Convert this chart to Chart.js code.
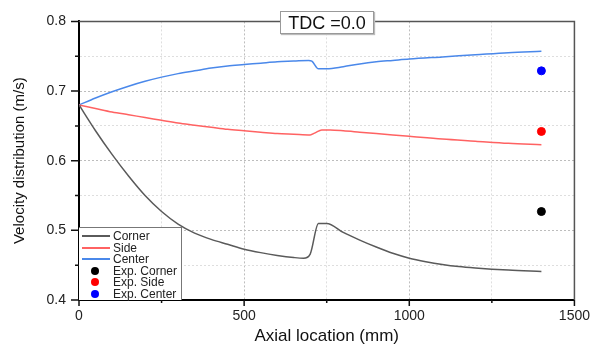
<!DOCTYPE html>
<html>
<head>
<meta charset="utf-8">
<script src="https://cdn.jsdelivr.net/npm/chart.js@4.4.1/dist/chart.umd.min.js"></script>
<style>
    body { margin: 0; background: #fff; font-family: "Liberation Sans", Arial, sans-serif; }
    #wrap { position: relative; width: 598px; height: 349px; }
    #tdc {
        position: absolute; left: 280px; top: 11px; width: 92px; height: 21px;
        border: 1px solid #999; background: #fff; box-shadow: 1px 1px 1px #bbb;
        font-size: 18px; line-height: 22px; text-align: center; color: #111;
    }
    #legend {
        position: absolute; left: 79px; top: 227px; width: 102px; height: 72px;
        border: 1px solid #777; border-left: none; border-bottom: none; background: #fff;
        font-size: 12px; color: #222;
    }
    .row { position: absolute; left: 0; height: 12px; line-height: 12px; }
    .swatch { position: absolute; left: 3px; top: 5px; width: 28px; height: 2px; }
    .dot { position: absolute; left: 12px; top: 2px; width: 8px; height: 8px; border-radius: 50%; }
    .lbl { position: absolute; left: 34px; top: 0; white-space: nowrap; }
</style>
</head>
<body>
<div id="wrap">
    <canvas id="chart" width="598" height="349"></canvas>
    <div id="tdc">TDC =0.0</div>
    <div id="legend"></div>
</div>
<script>
// axial positions (mm) for the simulated curves
const cornerX = [0, 50, 100, 150, 200, 250, 300, 350, 400, 450, 500, 550, 600, 650, 680, 700, 725, 750, 800, 850, 900, 950, 1000, 1050, 1100, 1150, 1200, 1300, 1400];
const cornerY = [0.680, 0.643, 0.609, 0.578, 0.550, 0.527, 0.509, 0.496, 0.487, 0.480, 0.473, 0.468, 0.464, 0.461, 0.460, 0.466, 0.510, 0.510, 0.497, 0.486, 0.476, 0.467, 0.460, 0.455, 0.451, 0.448, 0.446, 0.443, 0.441];

const sideX = [0, 50, 100, 150, 200, 250, 300, 350, 400, 450, 500, 550, 600, 650, 700, 715, 735, 760, 800, 850, 900, 1000, 1100, 1200, 1300, 1400];
const sideY = [0.680, 0.675, 0.670, 0.666, 0.662, 0.658, 0.654, 0.651, 0.648, 0.645, 0.643, 0.641, 0.639, 0.638, 0.637, 0.640, 0.644, 0.644, 0.643, 0.641, 0.639, 0.635, 0.631, 0.628, 0.625, 0.623];

const centerX = [0, 50, 100, 150, 200, 250, 300, 350, 400, 450, 500, 550, 600, 650, 695, 705, 725, 750, 800, 850, 900, 950, 1000, 1100, 1200, 1300, 1400];
const centerY = [0.680, 0.690, 0.699, 0.707, 0.714, 0.720, 0.725, 0.729, 0.733, 0.736, 0.738, 0.740, 0.742, 0.743, 0.744, 0.743, 0.732, 0.732, 0.735, 0.739, 0.742, 0.744, 0.746, 0.749, 0.752, 0.755, 0.757];

// experimental points
const expX = 1400;
const expCorner = 0.527;
const expSide = 0.642;
const expCenter = 0.729;

const xMin = 0, xMax = 1500, xStep = 250, xLabelStep = 500;
const yMin = 0.4, yMax = 0.8, yStep = 0.05, yLabelStep = 0.1;

const pts = (xs, ys) => xs.map((x, i) => ({ x: x, y: ys[i] }));

function isMajor(v, step) {
    const r = v / step;
    return Math.abs(r - Math.round(r)) < 1e-6;
}

function lineSet(label, xs, ys, color) {
    return {
        label: label, data: pts(xs, ys), showLine: true, borderColor: color,
        backgroundColor: color, borderWidth: 1.5, pointRadius: 0,
        cubicInterpolationMode: 'monotone', kind: 'line'
    };
}

function dotSet(label, y, color) {
    return {
        label: label, data: [{ x: expX, y: y }], showLine: false,
        backgroundColor: color, borderColor: color, pointRadius: 4, pointHoverRadius: 4, kind: 'dot'
    };
}

// frame: thin box on top/right, tick marks outward on left/bottom
const framePlugin = {
    id: 'frame',
    afterDraw(chart) {
        const { ctx, chartArea: a, scales } = chart;
        ctx.save();
        ctx.setLineDash([]);
        ctx.strokeStyle = '#555';
        ctx.lineWidth = 1.5;
        ctx.beginPath();
        ctx.moveTo(a.left, a.top);
        ctx.lineTo(a.right, a.top);
        ctx.lineTo(a.right, a.bottom);
        ctx.stroke();

        ctx.strokeStyle = '#111';
        ctx.lineWidth = 1.5;
        ctx.beginPath();
        scales.x.ticks.forEach(t => {
            const px = scales.x.getPixelForValue(t.value);
            const len = isMajor(t.value, xLabelStep) ? 6 : 3;
            ctx.moveTo(px, a.bottom);
            ctx.lineTo(px, a.bottom + len);
        });
        scales.y.ticks.forEach(t => {
            const py = scales.y.getPixelForValue(t.value);
            const len = isMajor(t.value, yLabelStep) ? 8 : 4;
            ctx.moveTo(a.left, py);
            ctx.lineTo(a.left - len, py);
        });
        ctx.stroke();
        ctx.restore();
    }
};

const gridColor = (step) => (c) => isMajor(c.tick.value, step) ? '#bdbdbd' : '#dedede';

const chart = new Chart(document.getElementById('chart').getContext('2d'), {
    type: 'scatter',
    data: {
        datasets: [
            lineSet('Corner', cornerX, cornerY, '#5a5a5a'),
            lineSet('Side', sideX, sideY, '#ff6262'),
            lineSet('Center', centerX, centerY, '#4a88ea'),
            dotSet('Exp. Corner', expCorner, '#000000'),
            dotSet('Exp. Side', expSide, '#ff0000'),
            dotSet('Exp. Center', expCenter, '#0000ff')
        ]
    },
    options: {
        responsive: false,
        animation: false,
        layout: { padding: { top: 12, right: 19, left: 0, bottom: 0 } },
        plugins: { legend: { display: false }, tooltip: { enabled: false } },
        scales: {
            x: {
                type: 'linear', min: xMin, max: xMax,
                afterFit(s) { s.height = 49; },
                border: { display: true, color: '#000', width: 2, dash: [2, 2] },
                grid: { color: gridColor(xLabelStep), drawTicks: false, lineWidth: 1 },
                ticks: {
                    stepSize: xStep, padding: 8, color: '#222', maxRotation: 0, autoSkip: false,
                    font: { family: 'Liberation Sans', size: 14 },
                    callback: v => isMajor(v, xLabelStep) ? String(v) : ''
                },
                title: {
                    display: true, text: 'Axial location (mm)', color: '#111',
                    font: { family: 'Liberation Sans', size: 17 }, padding: { top: 0, bottom: 2 }
                }
            },
            y: {
                type: 'linear', min: yMin, max: yMax,
                afterFit(s) { s.width = 79; },
                border: { display: true, color: '#000', width: 2, dash: [2, 2] },
                grid: { color: gridColor(yLabelStep), drawTicks: false, lineWidth: 1 },
                ticks: {
                    stepSize: yStep, padding: 13, color: '#222', autoSkip: false,
                    font: { family: 'Liberation Sans', size: 14 },
                    callback: v => isMajor(v, yLabelStep) ? v.toFixed(1) : ''
                },
                title: {
                    display: true, text: 'Velocity distribution (m/s)', color: '#111',
                    font: { family: 'Liberation Sans', size: 15 }, padding: { top: 11, bottom: 0 }
                }
            }
        }
    },
    plugins: [framePlugin]
});

// legend inside the plot, lower left
const legend = document.getElementById('legend');
legend.innerHTML = chart.data.datasets.map((d, i) => {
    const mark = d.kind === 'line'
        ? `<span class="swatch" style="background:${d.borderColor}"></span>`
        : `<span class="dot" style="background:${d.backgroundColor}"></span>`;
    return `<div class="row" style="top:${2 + i * 11.6}px">${mark}<span class="lbl">${d.label}</span></div>`;
}).join('');
</script>
</body>
</html>
